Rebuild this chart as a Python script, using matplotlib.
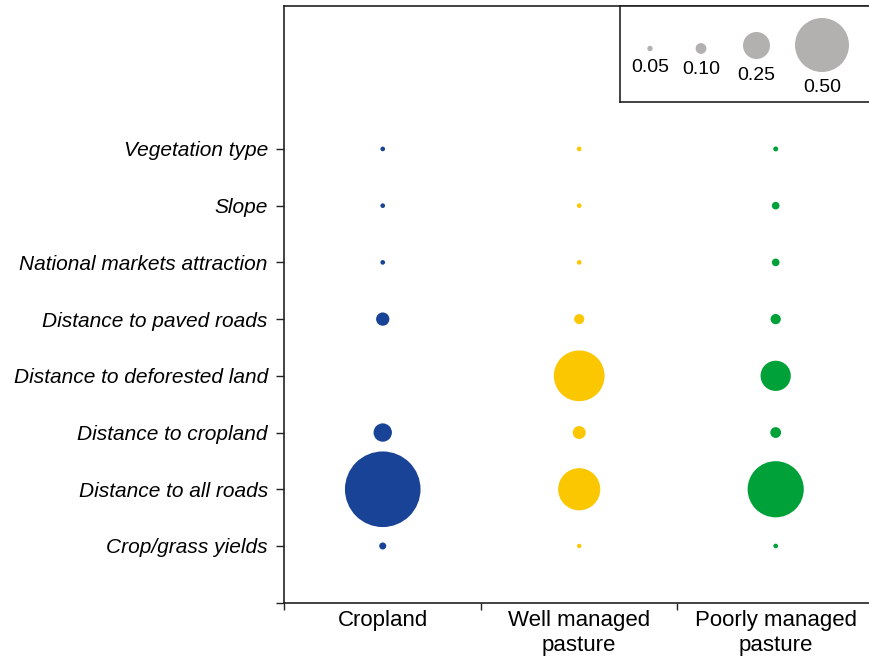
import matplotlib
matplotlib.use('Agg')
import matplotlib.pyplot as plt
import numpy as np

plt.rcParams['font.family'] = ['Liberation Sans', 'DejaVu Sans']

# factors, bottom to top
factors = ['Crop/grass yields', 'Distance to all roads', 'Distance to cropland',
           'Distance to deforested land', 'Distance to paved roads',
           'National markets attraction', 'Slope', 'Vegetation type']
classes = ['Cropland', 'Well managed\npasture', 'Poorly managed\npasture']

# relative importance (bottom to top, same order as factors)
cropland = [0.065, 0.70, 0.17, 0.0, 0.123, 0.043, 0.043, 0.043]
well_pasture = [0.040, 0.39, 0.12, 0.47, 0.093, 0.043, 0.043, 0.043]
poor_pasture = [0.043, 0.52, 0.10, 0.28, 0.095, 0.071, 0.071, 0.046]
colors = ['#184397', '#FBC700', '#00A139']

legend_vals = [0.05, 0.10, 0.25, 0.50]
legend_labels = ['0.05', '0.10', '0.25', '0.50']

dpi = 100
px_per_unit = 108.0  # bubble diameter in pixels per unit of importance


def bubble_size(v):
    d_pt = np.asarray(v) * px_per_unit * 72.0 / dpi
    return d_pt ** 2


fig = plt.figure(figsize=(8.7, 6.62), dpi=dpi)
ax = fig.add_axes([284.5 / 870, 1 - 602.7 / 662, 1 - 284.5 / 870, (602.7 - 6) / 662])

ypos = np.arange(1, len(factors) + 1)
for i, vals in enumerate([cropland, well_pasture, poor_pasture]):
    ax.scatter(np.full(len(factors), i + 0.5), ypos, s=bubble_size(vals),
               color=colors[i], linewidths=0, zorder=3)

ax.set_xlim(0, 2.98)
ax.set_ylim(0, 10.52)
ax.set_yticks(np.arange(0, len(factors) + 1))
ax.set_yticklabels([''] + factors, fontsize=15, style='italic')
ax.set_xticks([0, 1, 2])
ax.set_xticklabels([])
ax.set_xticks([0.5, 1.5, 2.5], minor=True)
ax.set_xticklabels(classes, minor=True, fontsize=16, linespacing=1.3)
ax.tick_params(axis='x', which='minor', length=0, pad=5)
ax.tick_params(axis='x', which='major', length=5, width=1, color='#222222')
ax.tick_params(axis='y', length=6, width=1, color='#222222', pad=6)
ax.spines['right'].set_visible(False)
for s in ['left', 'bottom', 'top']:
    ax.spines[s].set_color('#222222')
    ax.spines[s].set_linewidth(1.2)

# size legend box (pixel coordinates inside its own axes)
lax = fig.add_axes([620 / 870, 1 - 102 / 662, 252 / 870, 96 / 662])
lax.set_xlim(620, 872)
lax.set_ylim(102, 6)
lax.set_xticks([])
lax.set_yticks([])
lax.set_facecolor('white')
for s in lax.spines.values():
    s.set_color('#222222')
    s.set_linewidth(1.2)
leg_x = [650, 701, 756.5, 822]
leg_y = [48.5, 48.5, 45.5, 45]
lax.scatter(leg_x, leg_y, s=bubble_size(legend_vals), color='#B3B0B0', linewidths=0)
for x, y, v, lab in zip(leg_x, leg_y, legend_vals, legend_labels):
    lax.text(x, y + v * px_per_unit / 2 + 16, lab, ha='center', va='center', fontsize=14)

fig.savefig('out.png', dpi=dpi)
